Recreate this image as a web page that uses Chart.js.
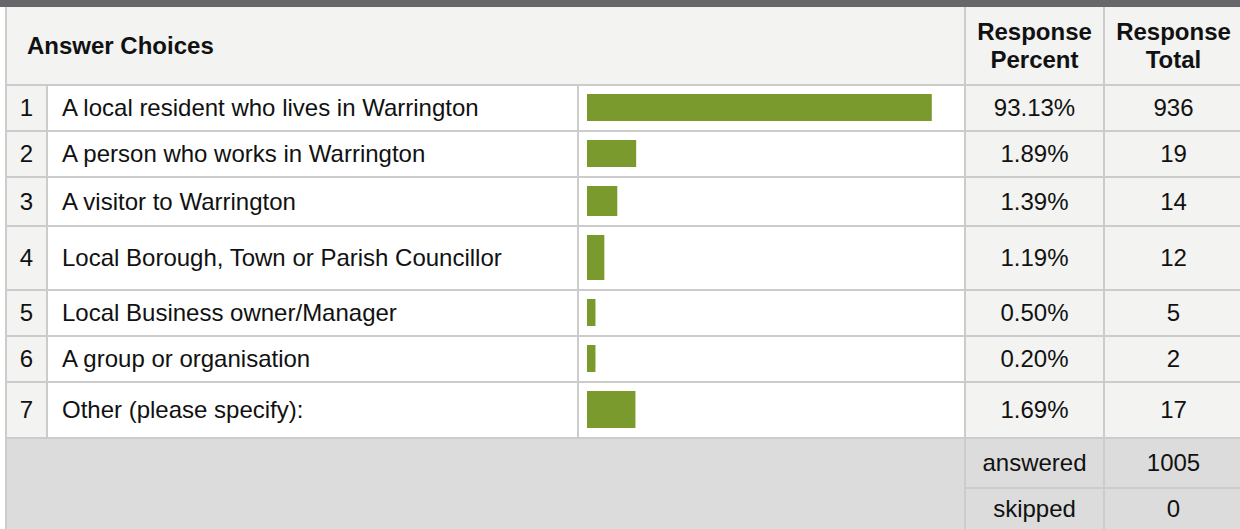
<!DOCTYPE html>
<html>
<head>
<meta charset="utf-8">
<script src="https://cdn.jsdelivr.net/npm/chart.js@4/dist/chart.umd.min.js"></script>
<style>
  html, body { margin: 0; padding: 0; background: #fff; overflow: hidden; }
  body { width: 1240px; height: 529px; position: relative; font-family: "Liberation Sans", Arial, sans-serif; font-size: 24px; color: #111; }
  #topbar { position: absolute; left: 0; top: 0; width: 1240px; height: 7px; background: #67666b; }
  #tabla {
    position: absolute; left: 5px; top: 7px;
    padding-left: 2px;
    background: #cccccc;
    display: grid;
    grid-template-columns: 39px 529px 385px 137px 137px;
    grid-template-rows: 77px 44px 44px 47px 62px 44px 44px 54px 48px 40px;
    gap: 2px;
  }
  #tabla > div { display: flex; align-items: center; position: relative; }
  .head { background: #f3f3f1; font-weight: bold; justify-content: center; text-align: center; line-height: 27.5px; }
  .head.left { justify-content: flex-start; padding-left: 20px; }
  .num { background: #f3f3f1; justify-content: center; }
  .txt { background: #fff; padding-left: 14px; }
  .bar { background: #fff; }
  .val { background: #f3f3f1; justify-content: center; }
  .foot { background: #dcdcdc; justify-content: center; }
  .bar .wrap { position: absolute; left: 8px; right: 7px; top: 8px; bottom: 9px; }
</style>
</head>
<body>
<div id="topbar"></div>
<div id="tabla"></div>

<script>
const choices = [
  "A local resident who lives in Warrington",
  "A person who works in Warrington",
  "A visitor to Warrington",
  "Local Borough, Town or Parish Councillor",
  "Local Business owner/Manager",
  "A group or organisation",
  "Other (please specify):"
];
const percents = [93.13, 1.89, 1.39, 1.19, 0.50, 0.20, 1.69];
const totals = [936, 19, 14, 12, 5, 2, 17];
// largo de cada barra tal como se ve en la imagen (% del ancho de la celda)
const barLengths = [93.1, 13.2, 8.1, 4.6, 2.2, 2.2, 13.0];
const answered = 1005;
const skipped = 0;

const tabla = document.getElementById("tabla");

function celda(clase, html, estilo) {
  const d = document.createElement("div");
  d.className = clase;
  if (html !== undefined) d.innerHTML = html;
  if (estilo) d.style.cssText = estilo;
  tabla.appendChild(d);
  return d;
}

// encabezado
celda("head left", "Answer Choices", "grid-column: 1 / 4;");
celda("head", "Response<br>Percent");
celda("head", "Response<br>Total");

// filas
const barCells = [];
choices.forEach((c, i) => {
  celda("num", String(i + 1));
  celda("txt", c);
  const b = celda("bar");
  const w = document.createElement("div");
  w.className = "wrap";
  const cv = document.createElement("canvas");
  w.appendChild(cv);
  b.appendChild(w);
  barCells.push({ wrap: w, canvas: cv });
  celda("val", percents[i].toFixed(2) + "%");
  celda("val", String(totals[i]));
});

// pie
celda("foot", "", "grid-column: 1 / 4; grid-row: 9 / 11;");
celda("foot", "answered");
celda("foot", String(answered));
celda("foot", "skipped");
celda("foot", String(skipped));

// barras con Chart.js
barCells.forEach((bc, i) => {
  bc.canvas.width = bc.wrap.clientWidth;
  bc.canvas.height = bc.wrap.clientHeight;
  new Chart(bc.canvas, {
    type: "bar",
    data: {
      labels: [choices[i]],
      datasets: [{
        data: [barLengths[i]],
        backgroundColor: "#7a9a2e",
        borderWidth: 0,
        barPercentage: 1,
        categoryPercentage: 1
      }]
    },
    options: {
      indexAxis: "y",
      responsive: false,
      animation: false,
      layout: { padding: 0 },
      plugins: { legend: { display: false }, tooltip: { enabled: false } },
      scales: {
        x: { display: false, min: 0, max: 100 },
        y: { display: false }
      }
    }
  });
});
</script>
</body>
</html>
